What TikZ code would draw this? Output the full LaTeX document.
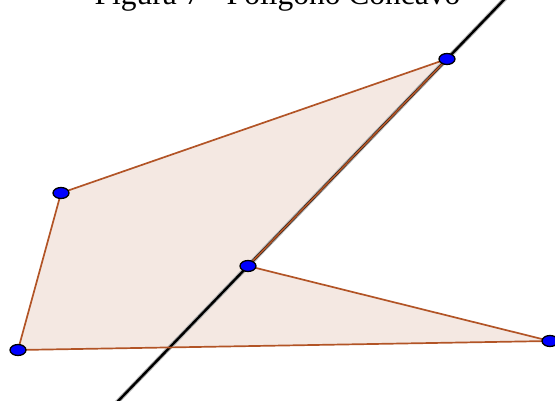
\documentclass[tikz,border=0pt]{standalone}
\usepackage{fontspec}
\setmainfont{Liberation Serif}
\usetikzlibrary{shapes.geometric}

\definecolor{polyfill}{RGB}{244,232,226}
\definecolor{polyedge}{RGB}{178,84,38}
\definecolor{ptblue}{RGB}{0,0,255}

\tikzset{
  vertex/.style={ellipse,draw=black,line width=1.3pt,fill=ptblue,
    minimum width=16pt,minimum height=11pt,inner sep=0pt},
  edge/.style={draw=polyedge,line width=1.7pt},
}

\begin{document}
\begin{tikzpicture}[x=1pt,y=-1pt]
  \useasboundingbox (0,0) rectangle (555,401);
  \clip (0,0) rectangle (555,401);
  % title, cut off at the top
  \node[anchor=base,inner sep=0pt,font=\fontsize{31.5}{36}\selectfont] (title) at (277.5,5) {Figura 7 - Polígono Côncavo};
  % vertices
  \coordinate (A) at (447,59);
  \coordinate (B) at (61,193);
  \coordinate (C) at (18,350);
  \coordinate (D) at (550,341);
  \coordinate (E) at (248,266);
  \coordinate (lineS) at (110.5,409);
  \coordinate (lineT) at (511.4,-8);
  % polygon interior
  \fill[polyfill] (A) -- (B) -- (C) -- (D) -- (E) -- cycle;
  % line through E and A
  \draw[black!30,line width=4.4pt] (lineS) -- (lineT);
  \draw[black,line width=2.4pt] (lineS) -- (lineT);
  % sides
  \draw[edge] (A) -- (B) -- (C) -- (D) -- (E) -- cycle;
  % points
  \node[vertex] (pA) at (A) {};
  \node[vertex] (pB) at (B) {};
  \node[vertex] (pC) at (C) {};
  \node[vertex] (pD) at (D) {};
  \node[vertex] (pE) at (E) {};
\end{tikzpicture}
\end{document}
